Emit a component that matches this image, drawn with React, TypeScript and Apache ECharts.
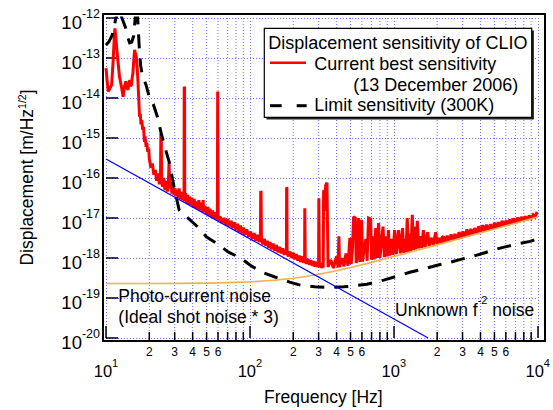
import React, { useEffect, useRef } from "react";
import * as echarts from "echarts";

// Current best sensitivity (13 December 2006) [Hz, m/Hz^1/2]
const redCurve: [number, number][] = [
  [10, 5.6e-14], [10.2, 2.5e-14], [10.37, 1.44e-14], [10.6, 1.7e-14], [10.94, 2.1e-14], [11.2, 8e-14], [11.4, 3e-13], [11.53, 5.5e-13], [11.7, 3.2e-13], [11.9, 1.6e-13], [12.09, 8.9e-14], [12.4, 3.5e-14], [12.81, 1.9e-14], [13.15, 1.07e-14], [13.4, 1.8e-14], [13.72, 2.6e-14], [13.95, 1.9e-14], [14.22, 1.6e-14], [14.4, 2.2e-14], [14.62, 2.8e-14], [14.8, 2.0e-14], [15.01, 2.1e-14], [15.2, 3.2e-14], [15.39, 4.2e-14], [15.6, 9e-14], [15.81, 1.6e-13], [16.0, 1.3e-13], [16.25, 1.07e-13], [16.45, 6e-14], [16.66, 2.8e-14], [16.9, 9e-15], [17.1, 3.4e-15], [17.3, 4e-15], [17.5, 2.2e-15], [17.7, 2.8e-15], [18.0, 1.6e-15], [18.2, 1.9e-15], [18.5, 8e-16], [18.7, 1.1e-15], [19.0, 6e-16], [19.2, 7.5e-16], [19.5, 4.5e-16], [19.8, 5.5e-16], [20.0, 3e-16],
  [20.5, 1.8e-16], [21.0, 2.3e-16], [21.5, 1.2e-16], [22.0, 1.6e-16], [22.5, 8.5e-17], [23.0, 1.3e-16], [23.5, 7e-17], [23.9, 1.0e-16], [24.05, 1.3e-15], [24.2, 1.2e-15], [24.35, 9e-17], [24.7, 6e-17], [25.2, 1.0e-16], [25.7, 5e-17], [26.2, 8.5e-17], [26.7, 4.6e-17], [27.1, 7e-17], [27.4, 2.4e-16], [27.7, 5.5e-17], [28.2, 8e-17], [28.7, 4.1e-17], [29.2, 6.5e-17], [29.7, 3.8e-17], [30.2, 5.5e-17], [30.7, 3.5e-17], [31.2, 5e-17], [31.7, 3.2e-17], [32.2, 5.5e-17], [32.7, 3.0e-17], [33.3, 4.5e-17], [33.9, 2.8e-17], [34.5, 4e-17], [34.85, 2.6e-17], [34.95, 1.9e-14], [35.15, 1.8e-14], [35.25, 2.7e-17], [35.7, 4.2e-17], [36.3, 2.4e-17],
  [36.9, 3.8e-17], [37.5, 2.2e-17], [38.1, 3.4e-17], [38.8, 2.1e-17], [39.5, 3.2e-17], [40.2, 1.9e-17], [41.0, 3.0e-17], [41.8, 1.8e-17], [42.6, 2.6e-17], [43.4, 1.65e-17], [44.2, 2.8e-17], [45.0, 1.55e-17], [45.9, 2.4e-17], [46.8, 1.45e-17], [47.3, 2.8e-17], [47.8, 1.4e-17], [48.8, 2.0e-17], [49.8, 1.25e-17], [50.8, 1.9e-17], [51.8, 1.15e-17], [52.8, 1.7e-17], [53.9, 1.08e-17], [55.0, 1.55e-17], [56.1, 1.0e-17], [57.2, 1.4e-17], [58.4, 9.2e-18], [59.4, 1.2e-17], [59.7, 1.45e-14], [59.95, 1.4e-14], [60.2, 1.1e-17], [61.0, 8.5e-18],
  [62, 1.1e-17], [64, 7.5e-18], [66, 1.0e-17], [68, 6.8e-18], [70, 9.5e-18], [72, 6.2e-18], [74, 8.5e-18], [76, 5.6e-18], [78, 7.8e-18], [80, 5.0e-18], [82, 7.2e-18], [84, 4.5e-18], [86, 6.5e-18], [88, 4.1e-18], [90, 5.8e-18], [92, 3.8e-18], [95, 5.2e-18], [98, 3.4e-18], [101, 4.6e-18], [104, 3.0e-18], [107, 4.2e-18], [110, 2.7e-18], [113, 3.8e-18], [116, 2.5e-18], [118.3, 3.4e-18], [118.9, 4.7e-17], [119.5, 4.5e-17], [120.2, 3.2e-18], [123, 2.2e-18], [126, 3.0e-18], [129, 2.0e-18], [132, 2.7e-18], [135, 1.8e-18], [138, 2.5e-18], [141, 1.65e-18], [145, 2.3e-18], [149, 1.5e-18], [153, 2.1e-18], [157, 1.38e-18], [161, 1.9e-18], [165, 1.3e-18], [169, 1.75e-18], [173, 1.2e-18], [177, 1.6e-18], [179.3, 1.4e-18], [179.9, 5.9e-17], [180.6, 5.6e-17], [181.3, 1.3e-18], [185, 1.1e-18], [190, 1.45e-18], [195, 1.0e-18], [200, 1.35e-18], [205, 9.2e-19], [210, 1.25e-18], [215, 8.6e-19], [220, 1.15e-18], [225, 8.0e-19], [230, 1.1e-18], [235, 7.6e-19], [239.8, 9.5e-19], [240.6, 1.75e-17], [241.6, 1.7e-17], [242.4, 9e-19], [247, 7.2e-19], [253, 9.5e-19], [259, 6.8e-19], [265, 8.8e-19], [271, 6.4e-19], [277, 8.4e-19], [283, 6.1e-19], [289, 8.0e-19], [295, 5.9e-19], [300, 7.5e-19], [301.3, 3.1e-17], [302.7, 3.0e-17], [304, 7e-19],
  [306, 5.8e-19], [310, 7.5e-19], [315, 5.6e-19], [320, 7.2e-19], [323, 5.8e-19], [325, 4.5e-17], [327, 5.0e-17], [330, 1.5e-17], [336, 6.5e-17], [343, 7.6e-17], [349, 6e-19],
  [352, 6.0e-19], [365, 9e-19], [380, 5.6e-19], [400, 1.1e-18], [410, 5.8e-19], [415, 3.5e-18], [420, 6.0e-19], [435, 1.0e-18], [450, 6.2e-19], [465, 1.3e-18], [480, 6.4e-19], [495, 3.2e-18], [505, 7e-19], [515, 1.5e-18], [525, 1.07e-17], [540, 1.0e-17], [548, 7.5e-19], [558, 1.6e-18], [569, 1.0e-17], [580, 8e-19], [590, 2.5e-18], [597, 8.9e-18], [606, 8.2e-19], [620, 1.6e-18], [640, 3e-18], [652, 8.5e-19], [667, 1.0e-17], [690, 9.5e-18], [700, 9e-19], [710, 1.8e-18], [720, 3.5e-18], [732, 9.2e-19], [748, 5.6e-18], [762, 1.0e-18], [783, 7.5e-18], [800, 1.0e-18], [815, 2e-18], [841, 6.1e-18], [860, 1.05e-18], [880, 3.5e-18], [900, 1.1e-18], [917, 5e-18], [935, 1.15e-18], [960, 3e-18], [985, 1.2e-18], [1012, 5e-18], [1040, 1.25e-18], [1078, 5e-18], [1110, 1.3e-18], [1150, 5.6e-18], [1170, 1.35e-18], [1190, 3e-18], [1215, 1.4e-18], [1239, 1.0e-17], [1262, 1.45e-18], [1290, 4e-18], [1315, 1.5e-18], [1343, 1.2e-17], [1370, 1.6e-18], [1400, 6e-18], [1425, 1.65e-18], [1455, 8.5e-18], [1490, 1.75e-18], [1530, 3.5e-18], [1565, 1.8e-18], [1604, 5e-18], [1650, 1.9e-18], [1690, 3e-18], [1718, 4.4e-18], [1760, 2.0e-18], [1800, 2.8e-18], [1830, 3.2e-18], [1880, 2.1e-18], [1920, 3.2e-18], [1954, 4.4e-18], [2000, 2.2e-18], [2040, 3.0e-18], [2080, 3.0e-18], [2130, 2.3e-18], [2170, 3.3e-18], [2208, 3.5e-18], [2260, 2.4e-18],
  [2350, 3.6e-18], [2420, 2.6e-18], [2500, 3.9e-18], [2580, 2.75e-18], [2660, 4.0e-18], [2750, 2.9e-18], [2840, 4.4e-18], [2930, 3.1e-18], [3020, 4.6e-18], [3120, 3.35e-18], [3220, 5.2e-18], [3320, 3.55e-18], [3430, 5.3e-18], [3540, 3.8e-18], [3650, 5.6e-18], [3770, 4.05e-18], [3890, 6.2e-18], [4010, 4.3e-18], [4140, 6.6e-18], [4270, 4.6e-18], [4400, 6.8e-18], [4540, 4.9e-18], [4690, 7.0e-18], [4840, 5.2e-18], [5000, 7.6e-18], [5150, 5.5e-18], [5310, 7.8e-18], [5480, 5.9e-18], [5650, 8.5e-18], [5830, 6.2e-18], [6010, 8.6e-18], [6200, 6.6e-18], [6400, 9.2e-18], [6600, 7.1e-18], [6800, 9.8e-18], [7020, 7.5e-18], [7240, 1.02e-17], [7470, 8.0e-18], [7700, 1.06e-17], [7950, 8.5e-18], [8200, 1.1e-17], [8450, 9.0e-18], [8720, 1.15e-17], [9000, 9.7e-18], [9280, 1.2e-17], [9570, 1.05e-17], [9800, 1.3e-17], [10000, 1.25e-17],
];

// Limit sensitivity (300K)
const limitCurve: [number, number][] = [
  [10, 2.1e-13], [10.5, 2.6e-13], [11, 3.6e-13], [11.4, 6e-13], [11.7, 1.0e-12], [12.3, 1.8e-12], [12.9, 1.0e-12], [13.3, 7.5e-13], [13.7, 5.6e-13], [14.2, 3.2e-13], [14.6, 2.4e-13], [15.1, 2.5e-13], [15.6, 3.6e-13], [15.95, 1.0e-12], [16.25, 2.0e-12], [16.6, 1.0e-12], [17.0, 2.0e-13], [17.4, 6.5e-14], [17.85, 3.8e-14], [19.0, 2.1e-14], [20.0, 1.06e-14], [21.3, 7e-15], [22.7, 3.5e-15], [24.2, 1.3e-15], [26, 5e-16], [27.5, 2.5e-16], [29.7, 6e-17], [32.2, 1.6e-17], [36, 1.1e-17], [42, 6.7e-18], [50, 3.35e-18], [60, 2.2e-18], [71, 1.4e-18], [86, 1.0e-18], [100, 6.7e-19], [120, 4.5e-19], [149, 3.35e-19], [189, 2.5e-19], [224, 2.1e-19], [281, 1.9e-19], [360, 1.85e-19], [450, 1.9e-19], [551, 2.05e-19], [650, 2.2e-19], [850, 2.8e-19], [1050, 3.5e-19], [1290, 4.4e-19], [1500, 5e-19], [2030, 6.7e-19], [2480, 7.9e-19], [3000, 9.5e-19], [3680, 1.15e-18], [4290, 1.35e-18], [4930, 1.6e-18], [5930, 1.9e-18], [7400, 2.3e-18], [8840, 2.6e-18], [10000, 3.0e-18],
];

// Photo-current noise (ideal shot noise * 3)
const shotNoise: [number, number][] = [
  [10, 2.3e-19], [20, 2.31e-19], [30, 2.32e-19], [50, 2.36e-19], [70, 2.42e-19], [100, 2.53e-19], [130, 2.7e-19], [150, 2.8e-19], [200, 3.13e-19], [250, 3.5e-19], [300, 3.92e-19], [400, 4.82e-19], [500, 5.78e-19], [700, 7.77e-19], [1000, 1.085e-18], [1500, 1.6e-18], [2000, 2.13e-18], [3000, 3.19e-18], [5000, 5.3e-18], [7000, 7.42e-18], [10000, 1.06e-17],
];

// Unknown f^-2 noise
const unknownNoise: [number, number][] = [[10, 3e-16], [1732, 1e-20]];

const minorFreqTicks: number[] = [20, 30, 40, 50, 60, 70, 80, 90, 200, 300, 400, 500, 600, 700, 800, 900, 2000, 3000, 4000, 5000, 6000, 7000, 8000, 9000];
const labelledMinorDigits: number[] = [2, 3, 4, 5, 6];

const legendTitle = "Displacement sensitivity of CLIO";
const legendRed = "Current best sensitivity";
const legendDate = "(13 December 2006)";
const legendBlack = "Limit sensitivity (300K)";
const shotLabel1 = "Photo-current noise";
const shotLabel2 = "(Ideal shot noise * 3)";
const unknownLabel = "{b|Unknown f}{s|-2}{b| noise}";
const xTitle = "Frequency [Hz]";
const yTitle = "{b|Displacement [m/Hz}{s|1/2}{b|]}";

const FONT = "'Liberation Sans', Arial, Helvetica, sans-serif";
const GRID_COLOR = "#7070ff";

export default function App() {
  const ref = useRef<HTMLDivElement>(null);
  useEffect(() => {
    if (!ref.current) return;
    const chart = echarts.init(ref.current, null, { renderer: "svg" });
    const xRich = {
      b: { fontSize: 16.5, fontFamily: FONT, color: "#000", lineHeight: 22, verticalAlign: "bottom" },
      s: { fontSize: 11, fontFamily: FONT, color: "#000", lineHeight: 12, verticalAlign: "top" },
    };
    const yRich = {
      b: { fontSize: 18.5, fontFamily: FONT, color: "#000", lineHeight: 24, verticalAlign: "bottom" },
      s: { fontSize: 12.5, fontFamily: FONT, color: "#000", lineHeight: 13, verticalAlign: "top" },
    };
    const expFormatter = (v: number) => `{b|10}{s|${Math.round(Math.log10(v))}}`;
    const baseLine = (data: [number, number][], color: string, width: number, z: number, type: any = "solid") => ({
      type: "line",
      data,
      symbol: "none",
      showSymbol: false,
      silent: true,
      z,
      clip: true,
      lineStyle: { color, width, type, join: "miter", miterLimit: 2 },
      emphasis: { disabled: true },
    });
    const option: any = {
      animation: false,
      backgroundColor: "#fff",
      grid: { left: 106, right: 10, top: 18, bottom: 72 },
      xAxis: {
        type: "log",
        logBase: 10,
        min: 10,
        max: 10000,
        axisLine: { show: false },
        axisTick: { show: true, inside: true, length: 12, lineStyle: { color: "#000", width: 1.5 } },
        splitLine: { show: true, lineStyle: { color: GRID_COLOR, type: [1, 2], width: 1 } },
        axisLabel: { margin: 19, formatter: expFormatter, rich: xRich },
      },
      yAxis: {
        type: "log",
        logBase: 10,
        min: 1e-20,
        max: 1e-12,
        axisLine: { show: false },
        axisTick: { show: true, inside: true, length: 12, lineStyle: { color: "#000", width: 1.5 } },
        splitLine: { show: true, lineStyle: { color: GRID_COLOR, type: [1, 2], width: 1 } },
        axisLabel: { margin: 6, padding: [3.5, 0, 0, 0], formatter: expFormatter, rich: yRich },
      },
      series: [
        {
          type: "custom",
          z: 1,
          silent: true,
          data: minorFreqTicks.map((v) => [v, 1e-16]),
          encode: { x: 0, y: 1 },
          renderItem: (params: any, api: any) => {
            const v = api.value(0) as number;
            const top = api.coord([v, 1e-12]);
            const bot = api.coord([v, 1e-20]);
            const lead = Math.round(v / Math.pow(10, Math.floor(Math.log10(v) + 1e-9)));
            const children: any[] = [
              { type: "line", shape: { x1: top[0], y1: top[1], x2: bot[0], y2: bot[1] }, style: { stroke: GRID_COLOR, lineWidth: 1, lineDash: [1, 2] } },
              { type: "line", shape: { x1: bot[0], y1: bot[1] + 2, x2: bot[0], y2: bot[1] - 6 }, style: { stroke: "#000", lineWidth: 1.5 } },
            ];
            if (labelledMinorDigits.indexOf(lead) >= 0) {
              children.push({
                type: "text",
                x: bot[0],
                y: bot[1] + 14,
                style: { text: String(lead), fontSize: 12, fontFamily: FONT, fill: "#000", align: "center", verticalAlign: "middle" },
              });
            }
            return { type: "group", children };
          },
        },
        baseLine(redCurve, "#ff0000", 3, 2),
        baseLine(limitCurve, "#000000", 3, 3, [14, 10]),
        baseLine(shotNoise, "#f5b24a", 1.6, 4),
        baseLine(unknownNoise, "#0000ff", 1.2, 5),
      ],
      graphic: [
        { type: "rect", z: 50, shape: { x: 103, y: 14, width: 442, height: 327 }, style: { fill: "none", stroke: "#000", lineWidth: 2 } },
        // legend
        { type: "rect", z: 100, shape: { x: 266.5, y: 30.5, width: 267.4, height: 89 }, style: { fill: "#222" } },
        { type: "rect", z: 101, shape: { x: 264.3, y: 28.3, width: 267.4, height: 89 }, style: { fill: "#fff", stroke: "#000", lineWidth: 1.2 } },
        { type: "text", z: 102, x: 268.3, y: 42.5, style: { text: legendTitle, fontSize: 18, fontFamily: FONT, fill: "#000", align: "left", verticalAlign: "middle" } },
        { type: "line", z: 102, shape: { x1: 270, y1: 62.7, x2: 306, y2: 62.7 }, style: { stroke: "#ff0000", lineWidth: 2.5 } },
        { type: "text", z: 102, x: 314.3, y: 63.5, style: { text: legendRed, fontSize: 18, fontFamily: FONT, fill: "#000", align: "left", verticalAlign: "middle" } },
        { type: "text", z: 102, x: 518.3, y: 85, style: { text: legendDate, fontSize: 18, fontFamily: FONT, fill: "#000", align: "right", verticalAlign: "middle" } },
        { type: "line", z: 102, shape: { x1: 270, y1: 105.7, x2: 281.7, y2: 105.7 }, style: { stroke: "#000", lineWidth: 3 } },
        { type: "line", z: 102, shape: { x1: 296.7, y1: 105.7, x2: 306.7, y2: 105.7 }, style: { stroke: "#000", lineWidth: 3 } },
        { type: "text", z: 102, x: 314.3, y: 105.3, style: { text: legendBlack, fontSize: 18, fontFamily: FONT, fill: "#000", align: "left", verticalAlign: "middle" } },
        // annotations
        { type: "text", z: 60, x: 118.3, y: 295.7, style: { text: shotLabel1, fontSize: 17.5, fontFamily: FONT, fill: "#000", align: "left", verticalAlign: "middle" } },
        { type: "text", z: 60, x: 118.3, y: 316.7, style: { text: shotLabel2, fontSize: 17.5, fontFamily: FONT, fill: "#000", align: "left", verticalAlign: "middle" } },
        {
          type: "text", z: 60, x: 395, y: 306.8,
          style: {
            text: unknownLabel, align: "left", verticalAlign: "middle",
            rich: {
              b: { fontSize: 17.5, fontFamily: FONT, fill: "#000", color: "#000", lineHeight: 24, verticalAlign: "bottom" },
              s: { fontSize: 11, fontFamily: FONT, fill: "#000", color: "#000", lineHeight: 12, verticalAlign: "top" },
            },
          },
        },
        // axis titles
        { type: "text", z: 60, x: 323.3, y: 397, style: { text: xTitle, fontSize: 17.5, fontFamily: FONT, fill: "#000", align: "center", verticalAlign: "middle" } },
        {
          type: "text", z: 60, x: 26, y: 177.5, rotation: Math.PI / 2,
          style: {
            text: yTitle, align: "center", verticalAlign: "middle",
            rich: {
              b: { fontSize: 17.5, fontFamily: FONT, fill: "#000", color: "#000", lineHeight: 20, verticalAlign: "bottom" },
              s: { fontSize: 10.5, fontFamily: FONT, fill: "#000", color: "#000", lineHeight: 11, verticalAlign: "top" },
            },
          },
        },
      ],
    };
    chart.setOption(option);
    return () => chart.dispose();
  }, []);
  return <div ref={ref} style={{ position: "fixed", left: 0, top: 0, width: 553, height: 410, background: "#fff" }} />;
}
